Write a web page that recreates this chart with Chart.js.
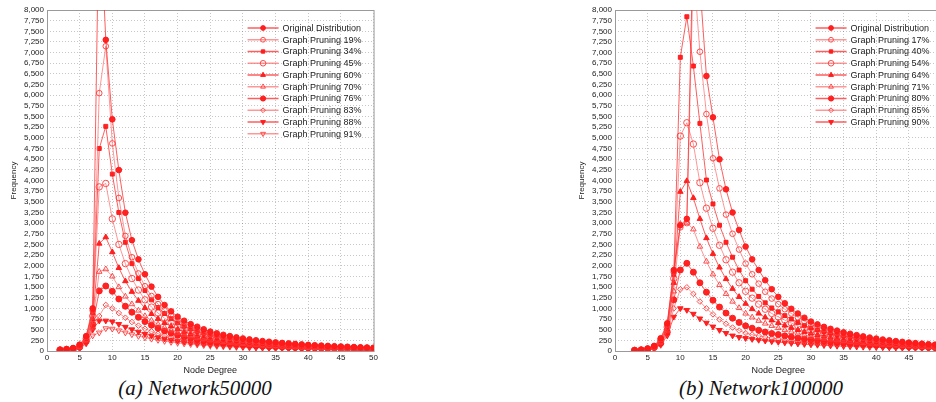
<!DOCTYPE html>
<html>
<head>
<meta charset="utf-8">
<script src="https://cdn.jsdelivr.net/npm/chart.js@4.4.1/dist/chart.umd.min.js"></script>
<style>
  html, body { margin: 0; padding: 0; background: #fff; overflow: hidden; }
  #wrap { position: relative; width: 936px; height: 402px; overflow: hidden; }
  canvas { position: absolute; top: 0; }
  #chartA { left: 0; }
  #chartB { left: 568px; }
  .cap {
    position: absolute; top: 376px; transform: translateX(-50%);
    font-family: "Liberation Serif", "DejaVu Serif", serif;
    font-style: italic; font-size: 21px; color: #111; white-space: nowrap;
  }
</style>
</head>
<body>
<div id="wrap">
  <canvas id="chartA" width="380" height="376"></canvas>
  <canvas id="chartB" width="380" height="376"></canvas>
  <div class="cap" style="left:195px">(a) Network50000</div>
  <div class="cap" style="left:761px">(b) Network100000</div>
</div>
<script>
// ---- Network50000 (degrees 2..50)
const degreesA = [2,3,4,5,6,7,8,9,10,11,12,13,14,15,16,17,18,19,20,21,22,23,24,25,26,
  27,28,29,30,31,32,33,34,35,36,37,38,39,40,41,42,43,44,45,46,47,48,49,50];
const namesA = ["Original Distribution", "Graph Pruning 19%", "Graph Pruning 34%",
  "Graph Pruning 45%", "Graph Pruning 60%", "Graph Pruning 70%", "Graph Pruning 76%",
  "Graph Pruning 83%", "Graph Pruning 88%", "Graph Pruning 91%"];
const origA = [30,45,70,150,350,1000,10700,7300,5435,4246, 3245,2600,2150,1800,1510,1270,1080,930,805,710,
  630,570,510,455,415,380,350,320,295,272, 252,234,218,203,190,178,166,155,145,136, 128,120,113,106,100,94,88,83,78];
const prune19A = [28,42,65,140,330,950,6050,7150,4870,3590, 2700,2200,1820,1520,1290,1100,950,820,710,625,
  555,500,450,405,370,340,312,287,265,245, 228,212,197,184,172,161,151,141,132,124, 116,109,102,96,90,85,80,75,71];
const prune34A = [26,40,60,130,310,900,4750,5270,4150,3250, 2550,2050,1700,1420,1200,1020,880,760,660,580,
  515,460,415,375,342,312,286,263,243,225, 209,194,181,169,158,148,139,130,122,114, 107,101,95,89,84,79,75,71,67];
const prune45A = [24,36,55,120,290,820,3850,3930,3100,2500, 2050,1700,1430,1200,1030,890,770,670,585,515,
  455,405,365,330,300,274,252,232,214,198, 184,171,159,148,138,129,121,113,106,99, 93,87,82,77,73,69,65,61,58];
const prune60A = [22,33,50,110,270,750,2520,2670,2320,1950, 1640,1390,1180,1010,870,755,660,580,510,452,
  402,360,324,293,266,243,223,205,189,175, 162,151,140,131,122,114,107,100,94,88, 83,78,73,69,65,61,58,55,52];
const prune70A = [20,30,45,100,250,680,1860,1920,1750,1500, 1280,1100,950,820,715,625,550,487,432,385,
  345,310,280,254,231,211,194,179,165,153, 142,132,123,115,107,100,94,88,83,78, 73,69,65,61,58,55,52,49,46];
const prune76A = [18,27,40,90,230,620,1410,1525,1400,1220, 1050,910,790,690,605,532,470,418,372,333,
  299,270,244,222,202,185,170,157,145,134, 125,116,108,101,94,88,83,78,73,69, 65,61,58,55,52,49,46,44,42];
const prune83A = [16,24,36,80,210,560,820,1080,1000,890, 780,680,595,522,460,407,362,323,290,261,
  236,214,195,178,163,150,138,128,118,110, 102,95,89,83,78,73,69,65,61,58, 55,52,49,46,44,42,40,38,36];
const prune88A = [14,21,32,70,190,500,710,710,690,630, 565,505,450,400,358,320,288,259,234,212,
  193,176,161,148,136,125,116,107,99,92, 86,80,75,70,66,62,58,55,52,49, 46,44,42,40,38,36,34,32,31];
const prune91A = [12,18,28,60,170,360,430,530,520,480, 430,388,350,315,284,256,231,209,190,173,
  158,145,133,122,113,104,96,89,83,77, 72,67,63,59,55,52,49,46,43,41, 39,37,35,33,31,30,28,27,26];

// ---- Network100000 (degrees 3..50)
const degreesB = [3,4,5,6,7,8,9,10,11,12,13,14,15,16,17,18,19,20,21,22,23,24,25,26,
  27,28,29,30,31,32,33,34,35,36,37,38,39,40,41,42,43,44,45,46,47,48,49,50];
const namesB = ["Original Distribution", "Graph Pruning 17%", "Graph Pruning 40%",
  "Graph Pruning 54%", "Graph Pruning 64%", "Graph Pruning 71%", "Graph Pruning 80%",
  "Graph Pruning 85%", "Graph Pruning 90%"];
const origB = [20,30,60,120,300,650,1900,2950,3100,9800, 8600,6451,5482,4497,3793,3250,2840,2450,2150,1900,
  1660,1450,1270,1120,990,880,780,690,625,567, 520,478,440,405,372,343,316,292,270,250, 232,215,199,185,172,160,149,139];
const prune17B = [18,28,55,110,280,620,1850,2900,3000,9000, 7021,5559,4520,3816,3200,2750,2380,2050,1800,1580,
  1390,1230,1100,980,880,790,700,620,565,515, 472,434,400,369,340,314,290,268,248,230, 213,198,184,171,159,148,138,128];
const prune40B = [17,26,50,100,260,590,1800,6890,7842,6685, 5340,4011,3450,2950,2550,2200,1900,1650,1450,1280,
  1130,1010,920,830,750,670,600,540,495,455, 418,385,355,328,303,280,259,240,223,207, 193,180,168,157,146,136,127,118];
const prune54B = [16,24,45,95,240,560,1700,5043,5355,4855, 3948,3350,2880,2480,2140,1850,1600,1400,1240,1100,
  980,880,800,725,655,590,532,480,441,406, 374,345,318,294,272,252,233,216,201,187, 174,162,151,141,132,123,115,107];
const prune64B = [15,22,42,90,220,520,1600,3737,3988,3590, 3100,2650,2280,1960,1690,1460,1270,1110,985,880,
  790,720,660,600,545,495,450,410,377,347, 320,295,272,251,232,215,199,185,172,160, 149,139,130,121,113,106,99,93];
const prune71B = [14,20,40,85,200,480,1400,2980,3010,2855, 2450,2100,1800,1550,1340,1160,1010,880,790,710,
  645,590,540,493,450,411,376,345,318,294, 272,252,234,217,202,188,175,163,152,142, 133,124,116,109,102,96,90,85];
const prune80B = [13,18,36,80,180,440,1200,1900,2057,1850, 1600,1380,1190,1030,890,770,670,590,535,487,
  445,410,385,355,328,303,283,265,248,232, 217,204,191,179,168,158,148,139,131,123, 116,109,103,97,91,86,81,77];
const prune85B = [12,16,32,72,160,400,1000,1447,1494,1340, 1160,1000,860,740,640,550,480,420,385,355,
  328,305,285,265,247,230,216,203,191,180, 169,159,150,141,133,126,119,112,106,100, 95,90,85,80,76,72,68,64];
const prune90B = [10,14,28,64,140,360,800,1000,960,870, 760,660,570,490,420,360,325,300,278,258,
  240,224,210,196,183,171,160,150,141,133, 125,118,112,106,100,95,90,86,82,78, 74,70,66,63,60,56,53,50];

// marker look per series position (gnuplot-like point types)
const markers = [
  { style: "circle",   fill: true,  r: 2.8 },
  { style: "circle",   fill: false, r: 2.8 },
  { style: "rect",     fill: true,  r: 2.8 },
  { style: "circle",   fill: false, r: 3.2 },
  { style: "triangle", fill: true,  r: 3.2 },
  { style: "triangle", fill: false, r: 3.2 },
  { style: "circle",   fill: true,  r: 3.0 },
  { style: "rectRot",  fill: false, r: 2.8 },
  { style: "triangle", fill: true,  r: 3.2, rot: 180 },
  { style: "triangle", fill: false, r: 3.2, rot: 180 },
];

const FONT = "'Liberation Sans', Arial, sans-serif";

const framePlugin = {
  id: "frame",
  beforeDatasetsDraw(chart) {
    const a = chart.chartArea, ctx = chart.ctx;
    ctx.save();
    ctx.strokeStyle = "#9a9a9a";
    ctx.lineWidth = 1;
    ctx.strokeRect(a.left + 0.5, a.top + 0.5, a.right - a.left, a.bottom - a.top);
    ctx.restore();
  }
};

const legendPlugin = {
  id: "insideLegend",
  afterDraw(chart) {
    const a = chart.chartArea, ctx = chart.ctx;
    ctx.save();
    chart.data.datasets.forEach((ds, i) => {
      const y = a.top + 18 + i * 11.75;
      const x0 = a.right - 126, x1 = a.right - 95;
      ctx.strokeStyle = ds.borderColor;
      ctx.lineWidth = 1.5;
      ctx.beginPath(); ctx.moveTo(x0, y); ctx.lineTo(x1, y); ctx.stroke();
      ctx.fillStyle = ds.pointBackgroundColor;
      ctx.strokeStyle = ds.pointBorderColor;
      ctx.lineWidth = 1;
      Chart.helpers.drawPoint(ctx, {
        pointStyle: ds.pointStyle, radius: ds.pointRadius - 0.4,
        rotation: ds.pointRotation, borderWidth: 1
      }, (x0 + x1) / 2, y);
      ctx.fillStyle = "#222";
      ctx.font = "9px " + FONT;
      ctx.textBaseline = "middle";
      ctx.textAlign = "left";
      ctx.fillText(ds.label, a.right - 91, y + 0.5);
    });
    ctx.restore();
  }
};

function makeChart(id, degrees, series, names) {
  const datasets = series.map((vals, i) => {
    const m = markers[i];
    const mark = m.fill ? "rgba(255,25,25,0.95)" : "rgba(255,60,60,0.9)";
    return {
      label: names[i],
      data: degrees.map((d, j) => ({ x: d, y: vals[j] })),
      borderColor: m.fill ? "rgba(255,40,40,0.75)" : "rgba(255,95,95,0.65)",
      borderWidth: 1,
      pointStyle: m.style,
      pointRadius: m.r,
      pointRotation: m.rot || 0,
      pointBackgroundColor: m.fill ? mark : "rgba(255,255,255,0)",
      pointBorderColor: mark,
      pointBorderWidth: 1,
      tension: 0
    };
  });

  return new Chart(document.getElementById(id), {
    type: "line",
    data: { datasets },
    plugins: [framePlugin, legendPlugin],
    options: {
      responsive: false,
      animation: false,
      locale: "en-US",
      layout: { padding: { top: 10, right: 6, left: 0, bottom: 0 } },
      plugins: { legend: { display: false }, tooltip: { enabled: false } },
      scales: {
        x: {
          type: "linear", min: 0, max: 50,
          ticks: { stepSize: 5, color: "#222", font: { size: 8, family: FONT }, padding: 2, maxRotation: 0 },
          grid: { color: "rgba(0,0,0,0.22)", drawTicks: false },
          border: { display: false, dash: [1, 2] },
          title: { display: true, text: "Node Degree", color: "#222",
                   font: { size: 9, family: FONT }, padding: { top: 3, bottom: 0 } },
          afterFit: (s) => { s.height = 25; }
        },
        y: {
          min: 0, max: 8000,
          ticks: { stepSize: 250, autoSkip: false, color: "#222", font: { size: 8, family: FONT }, padding: 3 },
          grid: { color: "rgba(0,0,0,0.22)", drawTicks: false },
          border: { display: false, dash: [1, 2] },
          title: { display: true, text: "Frequency", color: "#222",
                   font: { size: 8, family: FONT }, padding: { top: 9, bottom: 0 } },
          afterFit: (s) => { s.width = 47; }
        }
      }
    }
  });
}

makeChart("chartA", degreesA,
  [origA, prune19A, prune34A, prune45A, prune60A, prune70A, prune76A, prune83A, prune88A, prune91A], namesA);
makeChart("chartB", degreesB,
  [origB, prune17B, prune40B, prune54B, prune64B, prune71B, prune80B, prune85B, prune90B], namesB);
</script>
</body>
</html>
